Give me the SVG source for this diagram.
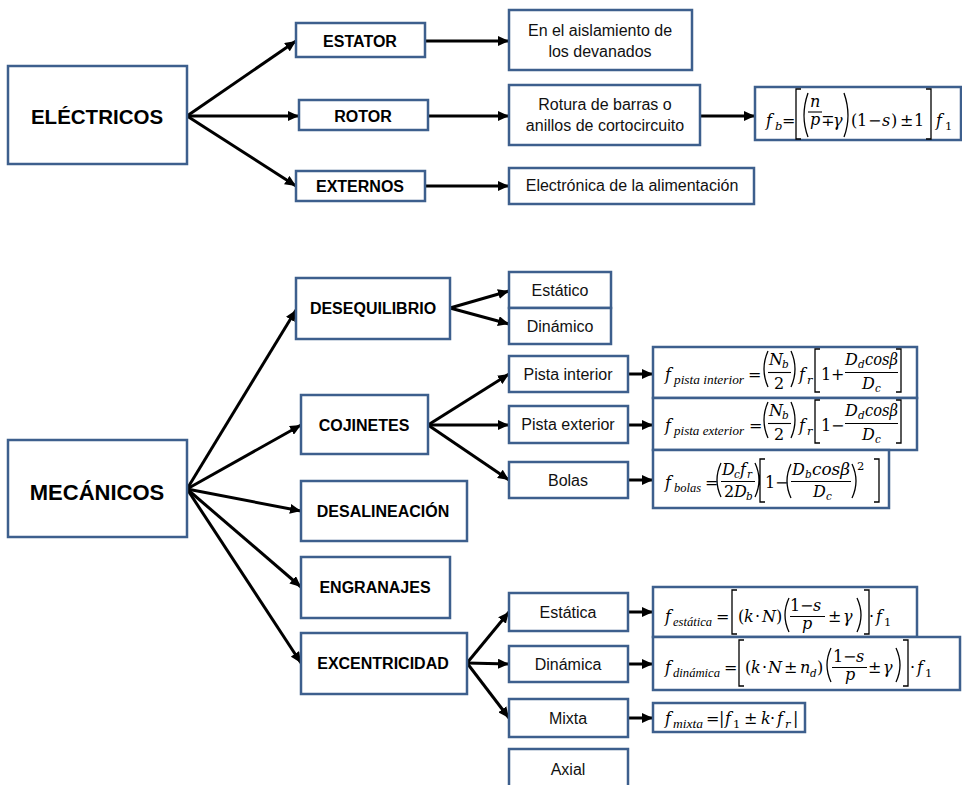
<svg xmlns="http://www.w3.org/2000/svg" width="962" height="785" viewBox="0 0 962 785">
<style>
.box{fill:#fff;stroke:#3d5f8d;stroke-width:2.5}
.fbox{fill:#fff;stroke:#3d5f8d;stroke-width:2.5}
.lb{font-family:"Liberation Sans",Arial,sans-serif;font-weight:bold;font-size:16px;fill:#000;text-anchor:middle}
.big{font-family:"Liberation Sans",Arial,sans-serif;font-weight:bold;fill:#000;text-anchor:middle}
.tx{font-family:"Liberation Sans",Arial,sans-serif;font-size:16px;fill:#111;text-anchor:middle}
.m{font-family:"DejaVu Serif","Liberation Serif",serif;font-size:16px;fill:#000}
.i{font-style:italic}
.s{font-size:11.5px}
.ss{font-size:10.5px}
.sw{font-family:"Liberation Serif","Times New Roman",serif;font-style:italic;font-size:12.5px}
.dl{fill:none;stroke:#000;stroke-width:1.3}
.bar{stroke:#000;stroke-width:1.1}
.con line{stroke:#000;stroke-width:3;marker-end:url(#ah)}
</style>
<defs>
<marker id="ah" markerUnits="userSpaceOnUse" markerWidth="11" markerHeight="10" refX="11" refY="5" orient="auto">
<path d="M0,0 L11,5 L0,10 z" fill="#000"/>
</marker>
</defs>
<rect width="962" height="785" fill="#fff"/>

<g class="con">
<line x1="187" y1="116" x2="296" y2="41"/>
<line x1="187" y1="116" x2="299" y2="116"/>
<line x1="187" y1="116" x2="296" y2="186"/>
<line x1="425" y1="41" x2="509" y2="41"/>
<line x1="428" y1="116" x2="509" y2="116"/>
<line x1="425" y1="186" x2="509" y2="186"/>
<line x1="700" y1="116" x2="755" y2="116"/>
<line x1="187" y1="489" x2="296" y2="310"/>
<line x1="187" y1="489" x2="301" y2="425"/>
<line x1="187" y1="489" x2="301" y2="511"/>
<line x1="187" y1="489" x2="301" y2="587"/>
<line x1="187" y1="489" x2="301" y2="663"/>
<line x1="450" y1="308" x2="509" y2="291"/>
<line x1="450" y1="308" x2="509" y2="324"/>
<line x1="428" y1="425" x2="509" y2="374"/>
<line x1="428" y1="425" x2="509" y2="425"/>
<line x1="428" y1="425" x2="509" y2="480"/>
<line x1="467" y1="663" x2="509" y2="612"/>
<line x1="467" y1="663" x2="509" y2="664"/>
<line x1="467" y1="663" x2="509" y2="718"/>
<line x1="628" y1="374" x2="653" y2="374"/>
<line x1="628" y1="425" x2="653" y2="425"/>
<line x1="628" y1="480" x2="653" y2="480"/>
<line x1="628" y1="612" x2="653" y2="612"/>
<line x1="628" y1="664" x2="653" y2="664"/>
<line x1="628" y1="718" x2="653" y2="718"/>
</g>

<g id="electricos"><rect class="box" x="8" y="66" width="179" height="98"/><text class="big" x="97" y="124" font-size="20.5">ELÉCTRICOS</text></g>
<g id="estator"><rect class="box" x="296" y="23" width="129" height="34"/><text class="lb" x="360" y="46.5">ESTATOR</text></g>
<g id="rotor"><rect class="box" x="299" y="100" width="129" height="30"/><text class="lb" x="363" y="121.5">ROTOR</text></g>
<g id="externos"><rect class="box" x="296" y="171" width="129" height="30"/><text class="lb" x="360" y="191.5">EXTERNOS</text></g>
<g id="aislamiento"><rect class="box" x="509" y="10" width="183" height="60"/><text class="tx" x="600" y="36">En el aislamiento de</text><text class="tx" x="600" y="57">los devanados</text></g>
<g id="rotura"><rect class="box" x="509" y="85" width="191" height="60"/><text class="tx" x="605" y="110">Rotura de barras o</text><text class="tx" x="605" y="131">anillos de cortocircuito</text></g>
<g id="electronica"><rect class="box" x="509" y="168" width="245" height="36"/><text class="tx" x="632" y="191">Electrónica de la alimentación</text></g>

<g id="f-b"><rect class="fbox" x="755" y="87" width="206" height="53"/>
<text class="m"><tspan class="i" x="766" y="126">f</tspan><tspan class="i s" x="775" y="130">b</tspan><tspan x="782" y="126">=</tspan><tspan class="i" x="810" y="107">n</tspan></text>
<text class="m"><tspan class="i" x="810" y="125">p</tspan><tspan x="821" y="126">∓</tspan><tspan class="i" x="833" y="126">γ</tspan><tspan x="851" y="126">(</tspan><tspan x="857" y="126">1</tspan><tspan x="868" y="126">−</tspan><tspan class="i" x="882" y="126">s</tspan><tspan x="891" y="126">)</tspan><tspan x="900" y="126">±</tspan><tspan x="914" y="126">1</tspan><tspan class="i" x="936" y="126">f</tspan><tspan class="s" x="945" y="130">1</tspan></text>
<path class="dl" d="M801,89 H796 V139 H801 M808,93 Q800,116 808,137 M844,93 Q852,116 844,137 M926,89 H931 V139 H926"/>
<line class="bar" x1="808" y1="112" x2="822" y2="112"/>
</g>

<g id="mecanicos"><rect class="box" x="8" y="440" width="179" height="97"/><text class="big" x="97" y="500" font-size="22">MECÁNICOS</text></g>
<g id="desequilibrio"><rect class="box" x="296" y="278" width="154" height="61"/><text class="lb" x="373" y="314">DESEQUILIBRIO</text></g>
<g id="estatico"><rect class="box" x="509" y="272" width="102" height="36"/><text class="tx" x="560" y="296">Estático</text></g>
<g id="dinamico"><rect class="box" x="509" y="308" width="102" height="36"/><text class="tx" x="560" y="332">Dinámico</text></g>
<g id="cojinetes"><rect class="box" x="301" y="395" width="127" height="59"/><text class="lb" x="364" y="430.5">COJINETES</text></g>
<g id="pista-interior"><rect class="box" x="509" y="356" width="119" height="36"/><text class="tx" x="568" y="379.5">Pista interior</text></g>
<g id="pista-exterior"><rect class="box" x="509" y="406" width="119" height="37"/><text class="tx" x="568" y="430">Pista exterior</text></g>
<g id="bolas"><rect class="box" x="509" y="462" width="119" height="36"/><text class="tx" x="568" y="485.5">Bolas</text></g>
<g id="desalineacion"><rect class="box" x="301" y="481" width="166" height="60"/><text class="lb" x="383" y="517" font-size="16.5">DESALINEACIÓN</text></g>
<g id="engranajes"><rect class="box" x="301" y="557" width="149" height="61"/><text class="lb" x="375" y="593">ENGRANAJES</text></g>
<g id="excentricidad"><rect class="box" x="301" y="633" width="166" height="61"/><text class="lb" x="383" y="669" font-size="16.5">EXCENTRICIDAD</text></g>
<g id="estatica"><rect class="box" x="509" y="593" width="119" height="38"/><text class="tx" x="568" y="617.5">Estática</text></g>
<g id="dinamica"><rect class="box" x="509" y="646" width="119" height="36"/><text class="tx" x="568" y="669.5">Dinámica</text></g>
<g id="mixta"><rect class="box" x="509" y="699" width="119" height="38"/><text class="tx" x="568" y="723.5">Mixta</text></g>
<g id="axial"><rect class="box" x="509" y="749" width="119" height="45"/><text class="tx" x="568" y="775">Axial</text></g>

<g id="f-pista-interior"><rect class="fbox" x="653" y="347" width="264" height="51"/>
<text class="m"><tspan class="i" x="665" y="380">f</tspan><tspan class="sw" x="674" y="384" textLength="70" lengthAdjust="spacingAndGlyphs">pista interior</tspan><tspan x="748" y="380">=</tspan><tspan class="i" x="769" y="365">N</tspan><tspan class="i ss" x="782" y="368">b</tspan><tspan x="774" y="389">2</tspan><tspan class="i" x="799" y="380">f</tspan><tspan class="i s" x="807" y="384">r</tspan><tspan x="821" y="380">1</tspan><tspan x="831" y="380">+</tspan><tspan class="i" x="845" y="365">D</tspan><tspan class="i ss" x="858" y="368">d</tspan><tspan class="i" x="865" y="365" textLength="33" lengthAdjust="spacingAndGlyphs">cosβ</tspan><tspan class="i" x="862" y="389">D</tspan><tspan class="i ss" x="875" y="392">c</tspan></text>
<path class="dl" d="M768,351 Q760,369 768,387 M791,351 Q799,369 791,387 M820,349 H815 V392 H820 M896,349 H901 V392 H896"/>
<line class="bar" x1="768" y1="372.5" x2="791" y2="372.5"/><line class="bar" x1="845" y1="372.5" x2="898" y2="372.5"/>
</g>

<g id="f-pista-exterior"><rect class="fbox" x="653" y="398" width="264" height="52"/>
<text class="m"><tspan class="i" x="665" y="431">f</tspan><tspan class="sw" x="674" y="435" textLength="70" lengthAdjust="spacingAndGlyphs">pista exterior</tspan><tspan x="749" y="431">=</tspan><tspan class="i" x="769" y="416">N</tspan><tspan class="i ss" x="782" y="419">b</tspan><tspan x="774" y="440">2</tspan><tspan class="i" x="799" y="431">f</tspan><tspan class="i s" x="807" y="435">r</tspan><tspan x="821" y="431">1</tspan><tspan x="831" y="431">−</tspan><tspan class="i" x="845" y="416">D</tspan><tspan class="i ss" x="858" y="419">d</tspan><tspan class="i" x="865" y="416" textLength="33" lengthAdjust="spacingAndGlyphs">cosβ</tspan><tspan class="i" x="862" y="440">D</tspan><tspan class="i ss" x="875" y="443">c</tspan></text>
<path class="dl" d="M768,402 Q760,420 768,438 M791,402 Q799,420 791,438 M820,400 H815 V443 H820 M896,400 H901 V443 H896"/>
<line class="bar" x1="768" y1="423.5" x2="791" y2="423.5"/><line class="bar" x1="845" y1="423.5" x2="898" y2="423.5"/>
</g>

<g id="f-bolas"><rect class="fbox" x="653" y="450" width="236" height="58"/>
<text class="m"><tspan class="i" x="665" y="488">f</tspan><tspan class="sw" x="674" y="492" textLength="27" lengthAdjust="spacingAndGlyphs">bolas</tspan><tspan x="705" y="488">=</tspan><tspan class="i" x="722" y="475">D</tspan><tspan class="i ss" x="734" y="478">c</tspan><tspan class="i" x="740" y="475">f</tspan><tspan class="i ss" x="747" y="478">r</tspan><tspan x="724" y="497">2</tspan><tspan class="i" x="734" y="497">D</tspan><tspan class="i ss" x="746" y="500">b</tspan><tspan x="765" y="488">1</tspan><tspan x="775" y="488">−</tspan><tspan class="i" x="792" y="475">D</tspan><tspan class="i ss" x="805" y="478">b</tspan><tspan class="i" x="812" y="475" textLength="38" lengthAdjust="spacingAndGlyphs">cosβ</tspan><tspan class="i" x="813" y="497">D</tspan><tspan class="i ss" x="826" y="500">c</tspan><tspan class="s" x="857" y="470">2</tspan></text>
<path class="dl" d="M721,463 Q713,480 721,497 M755,463 Q763,480 755,497 M765,459 H760 V502 H765 M791,464 Q783,481 791,498 M852,464 Q860,481 852,498 M874,459 H879 V502 H874"/>
<line class="bar" x1="721" y1="481.5" x2="755" y2="481.5"/><line class="bar" x1="791" y1="481.5" x2="851" y2="481.5"/>
</g>

<g id="f-estatica"><rect class="fbox" x="653" y="587" width="264" height="50"/>
<text class="m"><tspan class="i" x="665" y="622">f</tspan><tspan class="sw" x="673" y="626" textLength="39" lengthAdjust="spacingAndGlyphs">estática</tspan><tspan x="716" y="622">=</tspan><tspan x="738" y="622">(</tspan><tspan class="i" x="744" y="622">k</tspan><tspan x="755" y="622">·</tspan><tspan class="i" x="762" y="622">N</tspan><tspan x="776" y="622">)</tspan><tspan x="790" y="611">1</tspan><tspan x="800" y="611">−</tspan><tspan class="i" x="813" y="611">s</tspan><tspan class="i" x="802" y="629">p</tspan><tspan x="828" y="622">±</tspan><tspan class="i" x="843" y="622">γ</tspan><tspan x="869" y="622">·</tspan><tspan class="i" x="876" y="622">f</tspan><tspan class="s" x="884" y="626">1</tspan></text>
<path class="dl" d="M737,590 H732 V634 H737 M789,598 Q781,615 789,632 M857,598 Q865,615 857,632 M864,590 H869 V634 H864"/>
<line class="bar" x1="790" y1="616.5" x2="825" y2="616.5"/>
</g>

<g id="f-dinamica"><rect class="fbox" x="653" y="637" width="307" height="53"/>
<text class="m"><tspan class="i" x="665" y="673">f</tspan><tspan class="sw" x="673" y="677" textLength="47" lengthAdjust="spacingAndGlyphs">dinámica</tspan><tspan x="724" y="673">=</tspan><tspan x="745" y="673">(</tspan><tspan class="i" x="751" y="673">k</tspan><tspan x="762" y="673">·</tspan><tspan class="i" x="768" y="673">N</tspan><tspan x="784" y="673">±</tspan><tspan class="i" x="800" y="673">n</tspan><tspan class="i ss" x="810" y="677">d</tspan><tspan x="817" y="673">)</tspan><tspan x="833" y="662">1</tspan><tspan x="843" y="662">−</tspan><tspan class="i" x="856" y="662">s</tspan><tspan class="i" x="845" y="680">p</tspan><tspan x="868" y="673">±</tspan><tspan class="i" x="883" y="673">γ</tspan><tspan x="910" y="673">·</tspan><tspan class="i" x="917" y="673">f</tspan><tspan class="s" x="925" y="677">1</tspan></text>
<path class="dl" d="M744,640 H739 V686 H744 M831,648 Q823,665 831,682 M896,648 Q904,665 896,682 M903,640 H908 V686 H903"/>
<line class="bar" x1="832" y1="667.5" x2="867" y2="667.5"/>
</g>

<g id="f-mixta"><rect class="fbox" x="653" y="703" width="152" height="29"/>
<text class="m"><tspan class="i" x="665" y="724">f</tspan><tspan class="sw" x="673" y="728" textLength="30" lengthAdjust="spacingAndGlyphs">mixta</tspan><tspan x="706" y="724">=</tspan><tspan x="719" y="724">|</tspan><tspan class="i" x="725" y="724">f</tspan><tspan class="s" x="733" y="728">1</tspan><tspan x="744" y="724">±</tspan><tspan class="i" x="761" y="724">k</tspan><tspan x="770" y="724">·</tspan><tspan class="i" x="777" y="724">f</tspan><tspan class="i s" x="785" y="728">r</tspan><tspan x="793" y="724">|</tspan></text>
</g>
</svg>
